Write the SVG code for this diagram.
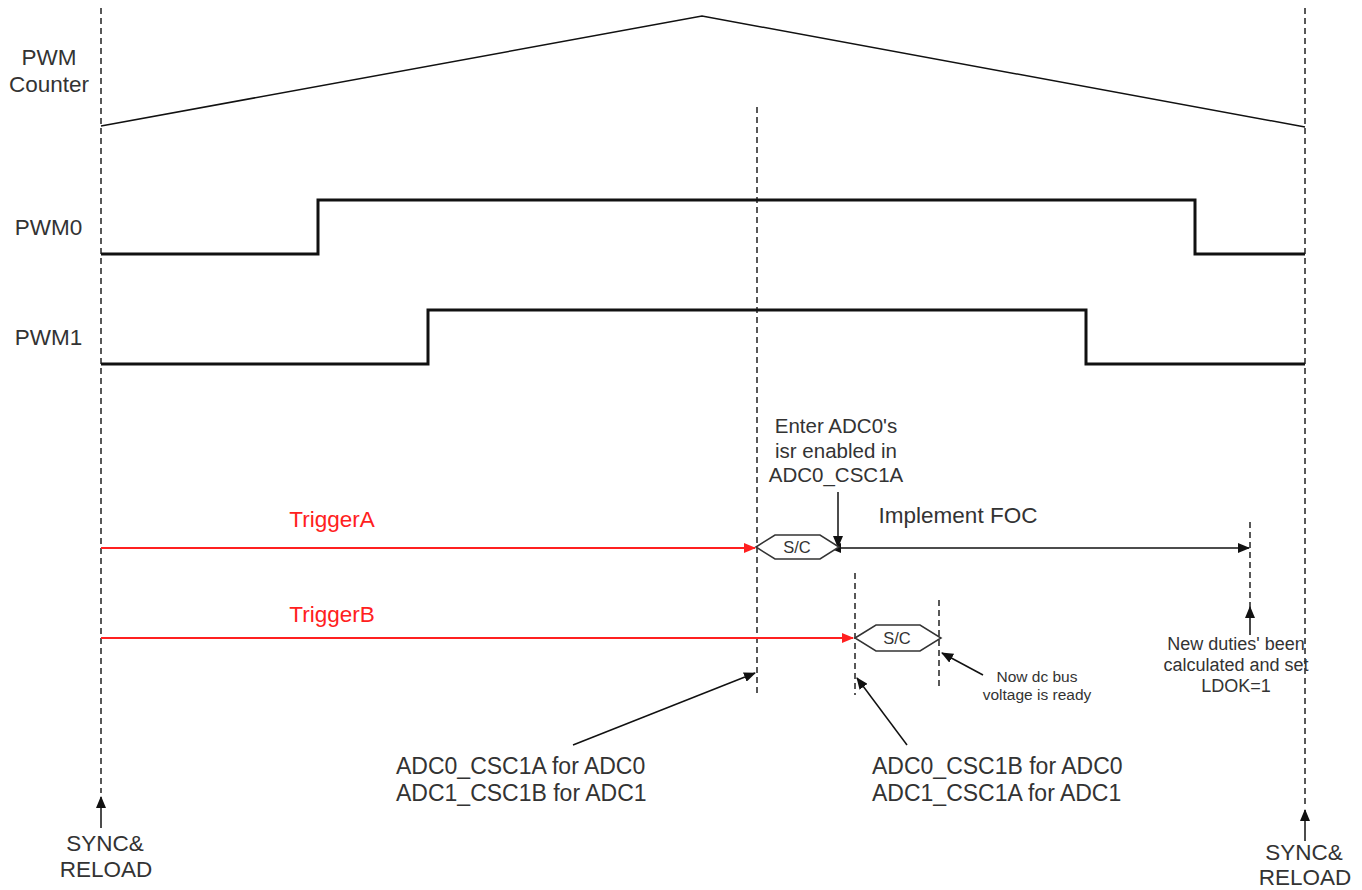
<svg xmlns="http://www.w3.org/2000/svg" width="1362" height="890" viewBox="0 0 1362 890">
<style>
text{font-family:"Liberation Sans",Arial,sans-serif;fill:#333}
.t{font-size:22.5px}
.a{font-size:23px}
.e{font-size:20.5px}
.s{font-size:15.5px}
.sc{font-size:16.5px}
.m{font-size:18px}
.red{fill:#ff2020}
.dash{stroke:#222;stroke-width:1.5;stroke-dasharray:6,4;fill:none}
.wave{stroke:#111;stroke-width:3;fill:none}
.thin{stroke:#111;stroke-width:1.5;fill:none}
.ar{stroke:#111;stroke-width:1.5;fill:none}
.rl{stroke:#ff2020;stroke-width:1.8;fill:none}
.hex{stroke:#333;stroke-width:1.5;fill:#fff}
</style>
<defs>
<marker id="ah" markerWidth="12" markerHeight="10" refX="11" refY="5" orient="auto" markerUnits="userSpaceOnUse"><path d="M0,0 L12,5 L0,10 Z" fill="#111"/></marker>
<marker id="ahs" markerWidth="12" markerHeight="10" refX="1" refY="5" orient="auto-start-reverse" markerUnits="userSpaceOnUse"><path d="M0,0 L12,5 L0,10 Z" fill="#111"/></marker>
<marker id="ahr" markerWidth="12" markerHeight="10" refX="11" refY="5" orient="auto" markerUnits="userSpaceOnUse"><path d="M0,0 L12,5 L0,10 Z" fill="#ff2020"/></marker>
</defs>

<g id="guides">
<line class="dash" x1="101" y1="8" x2="101" y2="793"/>
<line class="dash" x1="1305" y1="8" x2="1305" y2="805"/>
<line class="dash" x1="757" y1="107" x2="757" y2="695"/>
<line class="dash" x1="855" y1="573" x2="855" y2="695"/>
<line class="dash" x1="939" y1="600" x2="939" y2="688"/>
<line class="dash" x1="1250" y1="522" x2="1250" y2="607"/>
</g>

<g id="pwm-counter">
<text class="t" x="49" y="65" text-anchor="middle">PWM</text>
<text class="t" x="49" y="92" text-anchor="middle">Counter</text>
<polyline class="thin" points="101,126 702,16 1305,127"/>
</g>

<g id="pwm0">
<text class="t" x="48.5" y="235" text-anchor="middle">PWM0</text>
<polyline class="wave" points="101,254 318,254 318,200 1195,200 1195,254 1305,254"/>
</g>

<g id="pwm1">
<text class="t" x="48.5" y="345" text-anchor="middle">PWM1</text>
<polyline class="wave" points="101,364 428,364 428,310 1086,310 1086,364 1305,364"/>
</g>

<g id="connectors">
<line class="rl" x1="101" y1="548" x2="755" y2="548" marker-end="url(#ahr)"/>
<line class="rl" x1="101" y1="638" x2="853" y2="638" marker-end="url(#ahr)"/>
<line class="ar" x1="838" y1="492" x2="838" y2="547" marker-end="url(#ah)"/>
<line class="ar" x1="840" y1="548" x2="1249" y2="548" marker-start="url(#ahs)" marker-end="url(#ah)"/>
<line class="ar" x1="983" y1="675" x2="942" y2="653" marker-end="url(#ah)"/>
<line class="ar" x1="1250" y1="635" x2="1250" y2="607" marker-end="url(#ah)"/>
<line class="ar" x1="573" y1="745" x2="755" y2="673" marker-end="url(#ah)"/>
<line class="ar" x1="907" y1="745" x2="857" y2="678" marker-end="url(#ah)"/>
<line class="ar" x1="101" y1="828" x2="101" y2="797" marker-end="url(#ah)"/>
<line class="ar" x1="1305" y1="841" x2="1305" y2="810" marker-end="url(#ah)"/>
</g>

<g id="triggerA">
<text class="t red" x="332" y="527" text-anchor="middle">TriggerA</text>
</g>
<g id="triggerB">
<text class="t red" x="332" y="622" text-anchor="middle">TriggerB</text>
</g>

<g id="sc-a">
<polygon class="hex" points="756,547 775,535 820,535 839,547 820,559 775,559"/>
<text class="sc" x="797" y="553" text-anchor="middle">S/C</text>
</g>
<g id="sc-b">
<polygon class="hex" points="855,638 876,625 920,625 941,638 920,651 876,651"/>
<text class="sc" x="897" y="644" text-anchor="middle">S/C</text>
</g>

<g id="enter-isr">
<text class="e" x="836" y="433" text-anchor="middle">Enter ADC0's</text>
<text class="e" x="836" y="458" text-anchor="middle">isr enabled in</text>
<text class="e" x="836" y="482" text-anchor="middle">ADC0_CSC1A</text>
</g>

<g id="implement-foc">
<text class="t" x="958" y="523" text-anchor="middle">Implement FOC</text>
</g>

<g id="dc-bus">
<text class="s" x="1037" y="682" text-anchor="middle">Now dc bus</text>
<text class="s" x="1037" y="700" text-anchor="middle">voltage is ready</text>
</g>

<g id="new-duties">
<text class="m" x="1236" y="650" text-anchor="middle">New duties' been</text>
<text class="m" x="1236" y="671" text-anchor="middle">calculated and set</text>
<text class="m" x="1236" y="692" text-anchor="middle">LDOK=1</text>
</g>

<g id="adc-a">
<text class="a" x="396" y="774">ADC0_CSC1A for ADC0</text>
<text class="a" x="396" y="801">ADC1_CSC1B for ADC1</text>
</g>
<g id="adc-b">
<text class="a" x="872" y="774">ADC0_CSC1B for ADC0</text>
<text class="a" x="872" y="801">ADC1_CSC1A for ADC1</text>
</g>

<g id="sync-left">
<text class="t" x="105" y="851" text-anchor="middle">SYNC&amp;</text>
<text class="t" x="106" y="877" text-anchor="middle">RELOAD</text>
</g>
<g id="sync-right">
<text class="t" x="1304" y="860" text-anchor="middle">SYNC&amp;</text>
<text class="t" x="1305" y="885" text-anchor="middle">RELOAD</text>
</g>
</svg>
